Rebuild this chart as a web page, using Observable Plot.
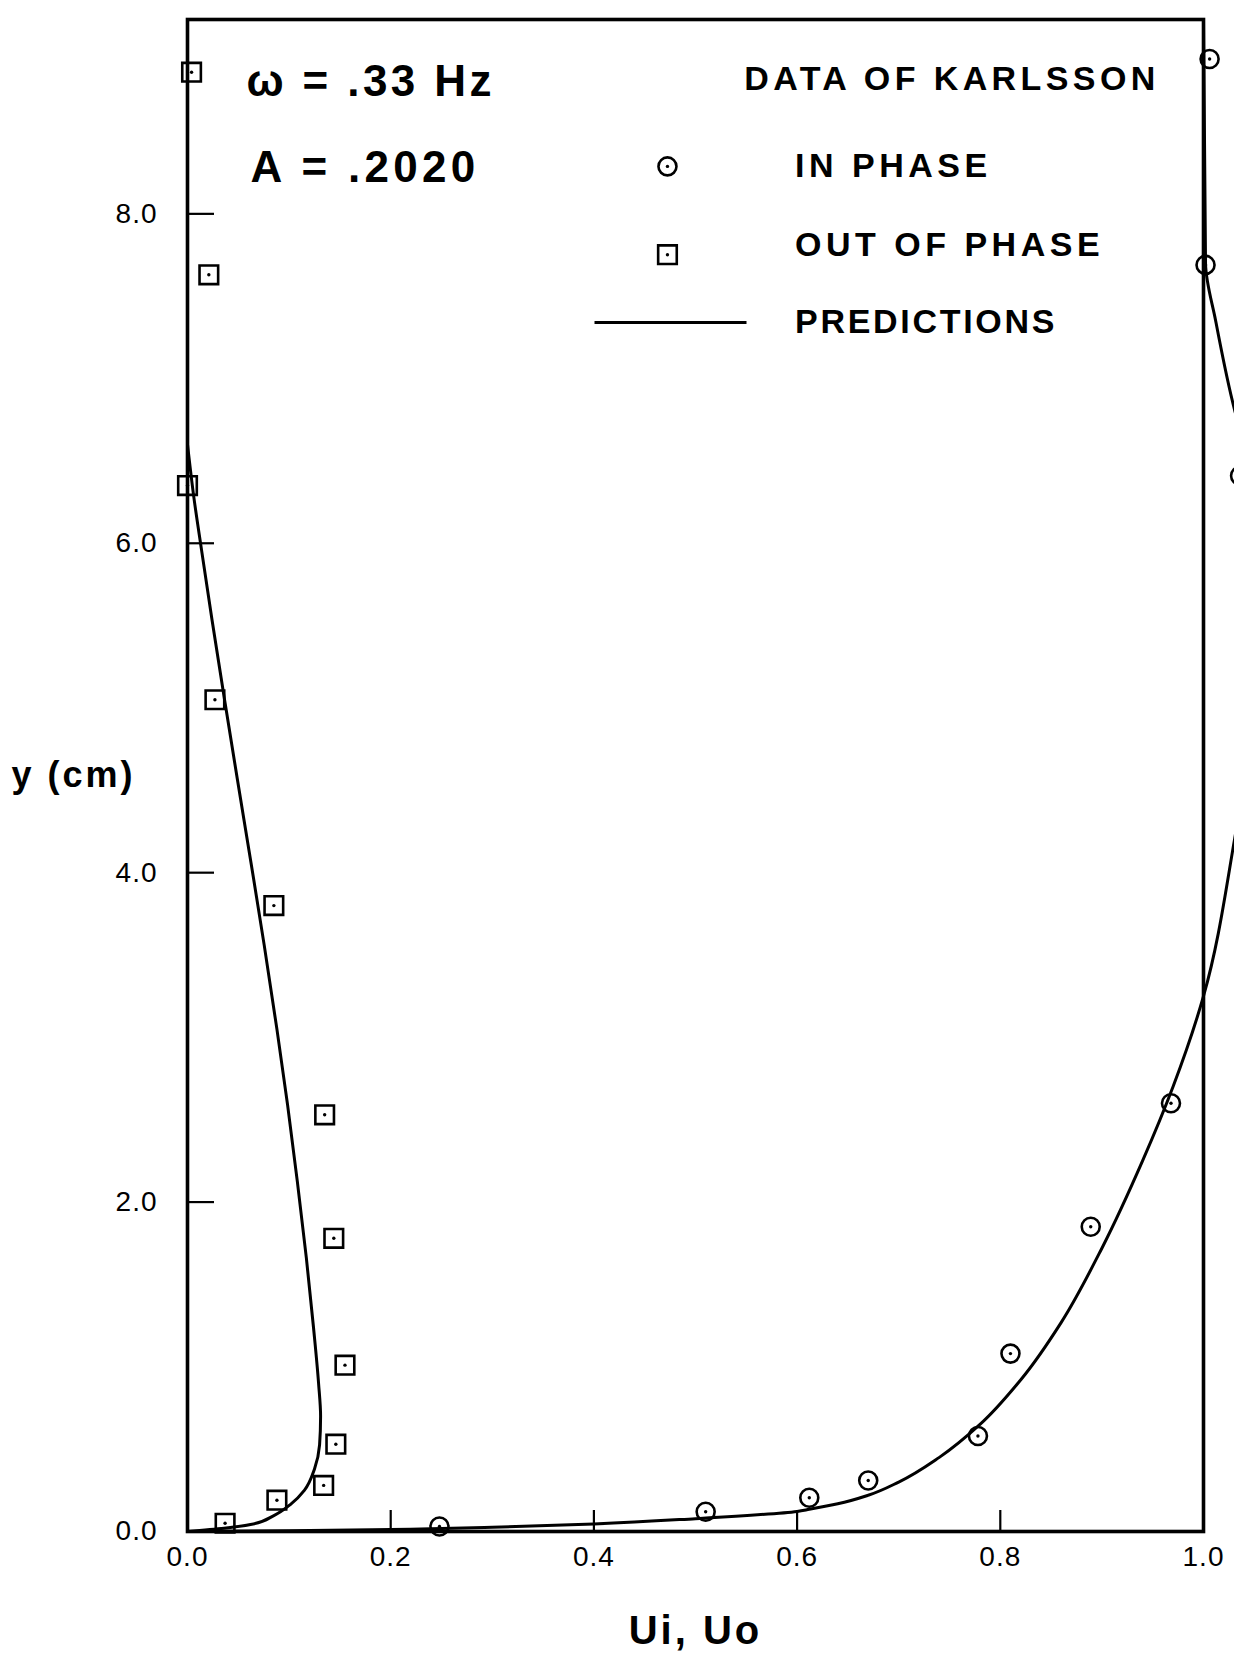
<!DOCTYPE html>
<html>
<head>
<meta charset="utf-8">
<script src="https://cdn.jsdelivr.net/npm/d3@7"></script>
<script src="https://cdn.jsdelivr.net/npm/@observablehq/plot@0.6"></script>
<style>
html, body { margin: 0; padding: 0; background: #fff; }
#chart { width: 1234px; height: 1655px; overflow: hidden; position: relative; }
</style>
</head>
<body>
<div id="chart"></div>
<script>
// ---------- data ----------
// Karlsson data, in phase (circles)
const inPhaseU = [1.006, 1.002, 1.036, 0.968, 0.889, 0.81, 0.778, 0.67, 0.612, 0.51, 0.248];
const inPhaseY = [8.94, 7.69, 6.41, 2.60, 1.85, 1.08, 0.58, 0.31, 0.205, 0.12, 0.03];
// Karlsson data, out of phase (squares)
const outPhaseU = [0.004, 0.021, 0.0, 0.027, 0.085, 0.135, 0.144, 0.155, 0.146, 0.134, 0.088, 0.037];
const outPhaseY = [8.86, 7.63, 6.35, 5.05, 3.80, 2.53, 1.78, 1.01, 0.53, 0.28, 0.19, 0.05];
// Predictions, out of phase component (ordered by increasing y)
const predOutU = [0, 0.036, 0.062, 0.085, 0.102, 0.115, 0.125, 0.130, 0.131, 0.129, 0.124, 0.117, 0.108, 0.0985, 0.088, 0.0755, 0.0625, 0.049, 0.037, 0.024, 0.0138, 0.0058, 0];
const predOutY = [0, 0.02, 0.042, 0.097, 0.168, 0.25, 0.38, 0.526, 0.70, 0.90, 1.24, 1.66, 2.13, 2.59, 3.05, 3.56, 4.06, 4.57, 5.03, 5.54, 5.96, 6.3, 6.6];
// Predictions, in phase component (ordered by increasing y)
const predInU = [0, 0.1, 0.2, 0.3, 0.4, 0.5, 0.6, 0.612, 0.64, 0.67, 0.7, 0.74, 0.78, 0.82, 0.86, 0.9, 0.94, 0.97, 1.0, 1.0305, 1.05, 1.058, 1.05, 1.031, 1.012, 1.002, 1.0];
const predInY = [0, 0.004, 0.012, 0.026, 0.046, 0.078, 0.122, 0.135, 0.168, 0.22, 0.30, 0.45, 0.65, 0.92, 1.27, 1.72, 2.25, 2.7, 3.25, 4.2, 5.0, 5.8, 6.4, 6.8, 7.35, 7.7, 9.18];
// tick values
const xTicks = [0, 0.2, 0.4, 0.6, 0.8, 1.0];
const yTicks = [0, 2, 4, 6, 8];
// texts
const paramTexts = ["ω = .33 Hz", "A = .2020"];
const legendTitle = "DATA OF KARLSSON";
const legendLabels = ["IN PHASE", "OUT OF PHASE", "PREDICTIONS"];
const xTitle = "Ui, Uo";
const yTitle = "y (cm)";

// ---------- layout (data-space anchors for annotations) ----------
const layout = {
  params: [{x: 0.058, y: 8.80}, {x: 0.062, y: 8.28}],
  title: {x: 0.548, y: 8.816},
  labelX: 0.598,
  labelY: [8.288, 7.812, 7.34],
  symX: 0.4724,
  lineX: [0.4006, 0.5502]
};

const pts = (us, ys) => us.map((u, i) => ({u, y: ys[i]}));
const inPts = pts(inPhaseU, inPhaseY);
const outPts = pts(outPhaseU, outPhaseY);
const predOut = pts(predOutU, predOutY);
const predIn = pts(predInU, predInY);

const font = "'Liberation Sans', Arial, Helvetica, sans-serif";
const W = 1234, H = 1655;
const mL = 187, mR = 31, mT = 19, mB = 124;
const xPerPx = 1 / (W - mL - mR);
const yPerPx = 9.18 / (H - mT - mB);

const plot = Plot.plot({
  width: W, height: H,
  marginLeft: mL, marginRight: mR, marginTop: mT, marginBottom: mB,
  x: {domain: [0, 1], label: null},
  y: {domain: [0, 9.18], label: null},
  style: {background: "white", fontFamily: font, color: "black", overflow: "visible"},
  marks: [
    Plot.axisX({ticks: xTicks, tickSize: 0, tickPadding: 15, tickFormat: d3.format(".1f"), fontSize: 28, label: null}),
    Plot.axisY({ticks: yTicks, tickSize: 0, tickPadding: 30, tickFormat: d3.format(".1f"), fontSize: 28, label: null}),
    // inward ticks
    Plot.ruleY(yTicks.filter(d => d > 0), {y: d => d, x1: 0, x2: 27 * xPerPx, stroke: "black", strokeWidth: 2.2}),
    Plot.ruleX(xTicks.filter(d => d > 0 && d < 1), {x: d => d, y1: 0, y2: 21 * yPerPx, stroke: "black", strokeWidth: 2.2}),
    // predictions
    Plot.line(predOut, {x: "u", y: "y", curve: "monotone-y", stroke: "black", strokeWidth: 3}),
    Plot.line(predIn, {x: "u", y: "y", curve: "monotone-y", stroke: "black", strokeWidth: 3}),
    // frame
    Plot.frame({stroke: "black", strokeWidth: 3.6}),
    // data
    Plot.dot(outPts, {x: "u", y: "y", symbol: "square", r: 10.5, stroke: "black", strokeWidth: 2.6, fill: "none"}),
    Plot.dot(outPts, {x: "u", y: "y", r: 1.7, fill: "black"}),
    Plot.dot(inPts, {x: "u", y: "y", symbol: "circle", r: 9, stroke: "black", strokeWidth: 2.6, fill: "none"}),
    Plot.dot(inPts, {x: "u", y: "y", r: 1.7, fill: "black"}),
    // parameter annotations
    Plot.text(paramTexts, {x: (d, i) => layout.params[i].x, y: (d, i) => layout.params[i].y, text: d => d, textAnchor: "start", lineAnchor: "middle", fontSize: 44, fontWeight: "bold", fill: "black"}),
    // legend
    Plot.text([legendTitle], {x: layout.title.x, y: layout.title.y, text: d => d, textAnchor: "start", lineAnchor: "middle", fontSize: 34, fontWeight: "bold", fill: "black"}),
    Plot.text(legendLabels, {x: layout.labelX, y: (d, i) => layout.labelY[i], text: d => d, textAnchor: "start", lineAnchor: "middle", fontSize: 34, fontWeight: "bold", fill: "black"}),
    Plot.dot([legendLabels[0]], {x: layout.symX, y: layout.labelY[0], symbol: "circle", r: 9, stroke: "black", strokeWidth: 2.6, fill: "none"}),
    Plot.dot([legendLabels[1]], {x: layout.symX, y: layout.labelY[1] - 0.06, symbol: "square", r: 10.5, stroke: "black", strokeWidth: 2.6, fill: "none"}),
    Plot.dot([legendLabels[0], legendLabels[1]], {x: layout.symX, y: (d, i) => layout.labelY[i] - (i ? 0.06 : 0), r: 1.7, fill: "black"}),
    Plot.link([legendLabels[2]], {x1: layout.lineX[0], x2: layout.lineX[1], y1: layout.labelY[2], y2: layout.labelY[2], stroke: "black", strokeWidth: 3}),
    // axis titles
    Plot.text([yTitle], {frameAnchor: "left", dx: -176, text: d => d, textAnchor: "start", lineAnchor: "middle", fontSize: 36, fontWeight: "bold", fill: "black"}),
    Plot.text([xTitle], {frameAnchor: "bottom", dy: 100, text: d => d, textAnchor: "middle", lineAnchor: "middle", fontSize: 40, fontWeight: "bold", fill: "black"})
  ]
});

// letter spacing to match the typewritten look
const spacing = {"DATA OF KARLSSON": 4.4, "IN PHASE": 4.5, "OUT OF PHASE": 4.5, "PREDICTIONS": 2.7, "ω = .33 Hz": 3.4, "A = .2020": 4.3, "y (cm)": 3, "Ui, Uo": 3};
d3.select(plot).selectAll("text").each(function() {
  const t = this.textContent;
  if (spacing[t] != null) this.style.letterSpacing = spacing[t] + "px";
});
d3.select(plot).selectAll("[aria-label='x-axis tick label'] text, [aria-label='y-axis tick label'] text").style("letter-spacing", "1px");

document.getElementById("chart").appendChild(plot);
</script>
</body>
</html>
